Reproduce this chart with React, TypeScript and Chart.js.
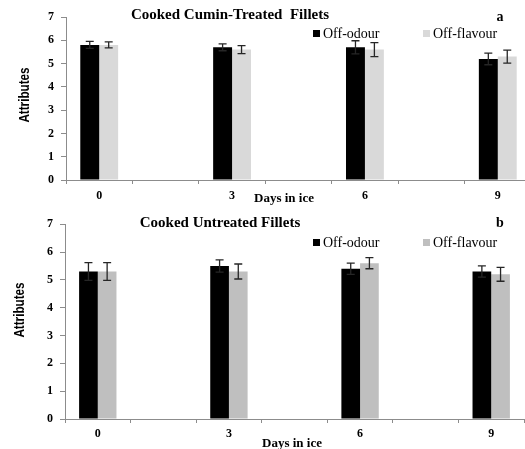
import React, { useEffect, useRef } from "react";
import { Chart, registerables } from "chart.js";

Chart.register(...registerables);

const days = ["0", "3", "6", "9"];
const cuminOdour = [5.8, 5.7, 5.7, 5.2];
const cuminOdourErr = [0.15, 0.15, 0.28, 0.25];
const cuminFlavour = [5.8, 5.6, 5.6, 5.3];
const cuminFlavourErr = [0.13, 0.17, 0.3, 0.28];
const untreatedOdour = [5.3, 5.5, 5.4, 5.3];
const untreatedOdourErr = [0.32, 0.22, 0.2, 0.2];
const untreatedFlavour = [5.3, 5.3, 5.6, 5.2];
const untreatedFlavourErr = [0.32, 0.27, 0.2, 0.25];
const seriesNames = ["Off-odour", "Off-flavour"];

const SERIF = '"Liberation Serif", "Times New Roman", serif';
const SANS = '"Liberation Sans", Arial, sans-serif';

// spread the 4 days over 7 slots (0, _, 3, _, 6, _, 9)
const slotLabels: string[] = [];
days.forEach((d, i) => {
  slotLabels.push(d);
  if (i < days.length - 1) slotLabels.push("");
});
const spread = (arr: number[]) => {
  const out: (number | null)[] = [];
  arr.forEach((v, i) => {
    out.push(v);
    if (i < arr.length - 1) out.push(null);
  });
  return out;
};

type PanelCfg = {
  top: number;
  height: number;
  padTop: number;
  padRight: number;
  yWidth: number;
  xTickPad: number;
  title: string;
  titleX: number;
  titleY: number;
  letter: string;
  letterY: number;
  legendY: number;
  xTitleX: number;
  xTitleY: number;
  yTitleX: number;
  yTitleY: number;
  odour: number[];
  odourErr: number[];
  flavour: number[];
  flavourErr: number[];
  grey: string;
};

const W = 540;

const panels: PanelCfg[] = [
  {
    top: 0, height: 210, padTop: 17, padRight: 9, yWidth: 66, xTickPad: 5,
    title: "Cooked Cumin-Treated  Fillets", titleX: 230, titleY: 15,
    letter: "a", letterY: 17, legendY: 34,
    xTitleX: 284, xTitleY: 199, yTitleX: 25, yTitleY: 95,
    odour: cuminOdour, odourErr: cuminOdourErr, flavour: cuminFlavour, flavourErr: cuminFlavourErr,
    grey: "#d9d9d9",
  },
  {
    top: 210, height: 239, padTop: 9, padRight: 16, yWidth: 65, xTickPad: 4,
    title: "Cooked Untreated Fillets", titleX: 220, titleY: 13,
    letter: "b", letterY: 13, legendY: 33,
    xTitleX: 292, xTitleY: 234, yTitleX: 20, yTitleY: 100,
    odour: untreatedOdour, odourErr: untreatedOdourErr, flavour: untreatedFlavour, flavourErr: untreatedFlavourErr,
    grey: "#bfbfbf",
  },
];

function Panel({ cfg }: { cfg: PanelCfg }) {
  const ref = useRef<HTMLCanvasElement>(null);
  useEffect(() => {
    if (!ref.current) return;
    const errs = [spread(cfg.odourErr), spread(cfg.flavourErr)];
    const overlay = {
      id: "overlay",
      afterDatasetsDraw(chart: any) {
        const ctx = chart.ctx;
        const y = chart.scales.y;
        ctx.save();
        ctx.strokeStyle = "#262626";
        ctx.lineWidth = 1.3;
        chart.data.datasets.forEach((ds: any, di: number) => {
          const meta = chart.getDatasetMeta(di);
          ds.data.forEach((v: number | null, i: number) => {
            const e = errs[di][i];
            if (v == null || e == null) return;
            const x = meta.data[i].x;
            const y1 = y.getPixelForValue(v + e);
            const y2 = y.getPixelForValue(v - e);
            ctx.beginPath();
            ctx.moveTo(x, y1);
            ctx.lineTo(x, y2);
            ctx.moveTo(x - 4, y1);
            ctx.lineTo(x + 4, y1);
            ctx.moveTo(x - 4, y2);
            ctx.lineTo(x + 4, y2);
            ctx.stroke();
          });
        });
        ctx.restore();
      },
      afterDraw(chart: any) {
        const ctx = chart.ctx;
        ctx.save();
        ctx.fillStyle = "#000";
        ctx.textBaseline = "middle";
        ctx.textAlign = "center";
        ctx.font = `bold 15px ${SERIF}`;
        ctx.fillText(cfg.title, cfg.titleX, cfg.titleY);
        ctx.font = `bold 14px ${SERIF}`;
        ctx.fillText(cfg.letter, 500, cfg.letterY);
        ctx.font = `bold 13px ${SERIF}`;
        ctx.fillText("Days in ice", cfg.xTitleX, cfg.xTitleY);
        // legend
        ctx.textAlign = "left";
        ctx.font = `14px ${SERIF}`;
        const items = [
          { x: 313, color: "#000", label: seriesNames[0] },
          { x: 423, color: cfg.grey, label: seriesNames[1] },
        ];
        items.forEach((it) => {
          ctx.fillStyle = it.color;
          ctx.fillRect(it.x, cfg.legendY - 4, 7, 7);
          ctx.fillStyle = "#000";
          ctx.fillText(it.label, it.x + 10, cfg.legendY);
        });
        // y title (condensed)
        ctx.translate(cfg.yTitleX, cfg.yTitleY);
        ctx.rotate(-Math.PI / 2);
        ctx.scale(0.78, 1);
        ctx.textAlign = "center";
        ctx.font = `bold 15px ${SANS}`;
        ctx.fillText("Attributes", 0, 0);
        ctx.restore();
      },
    };
    const chart = new Chart(ref.current, {
      type: "bar",
      data: {
        labels: slotLabels,
        datasets: [
          { label: seriesNames[0], data: spread(cfg.odour), backgroundColor: "#000000", borderWidth: 0 },
          { label: seriesNames[1], data: spread(cfg.flavour), backgroundColor: cfg.grey, borderWidth: 0 },
        ],
      },
      options: {
        animation: false,
        responsive: false,
        devicePixelRatio: 1,
        layout: { padding: { top: cfg.padTop, right: cfg.padRight, left: 0, bottom: 0 } },
        plugins: { legend: { display: false }, tooltip: { enabled: false } },
        datasets: { bar: { barPercentage: 1, categoryPercentage: 0.57, skipNull: false } },
        scales: {
          x: {
            type: "category",
            offset: true,
            grid: { display: true, drawOnChartArea: false, tickLength: 4, color: "#8c8c8c", offset: true },
            border: { color: "#8c8c8c" },
            ticks: {
              autoSkip: false,
              maxRotation: 0,
              padding: cfg.xTickPad,
              color: "#000",
              font: { family: SERIF, weight: "bold", size: 12 },
            },
            afterFit: (s: any) => { s.height = 30; },
          },
          y: {
            min: 0,
            max: 7,
            ticks: { stepSize: 1, padding: 7, color: "#000", font: { family: SERIF, weight: "bold", size: 12 } },
            grid: { drawOnChartArea: false, tickLength: 5, color: "#8c8c8c" },
            border: { color: "#8c8c8c" },
            afterFit: (s: any) => { s.width = cfg.yWidth; },
          },
        },
      } as any,
      plugins: [overlay],
    });
    return () => chart.destroy();
  }, [cfg]);
  return (
    <canvas
      ref={ref}
      width={W}
      height={cfg.height}
      style={{ position: "absolute", left: 0, top: cfg.top, width: W, height: cfg.height }}
    />
  );
}

export default function App() {
  return (
    <div
      style={{
        position: "fixed",
        left: 0,
        top: 0,
        width: 525,
        height: 449,
        overflow: "hidden",
        background: "#fff",
      }}
    >
      {panels.map((p, i) => (
        <Panel key={i} cfg={p} />
      ))}
    </div>
  );
}
